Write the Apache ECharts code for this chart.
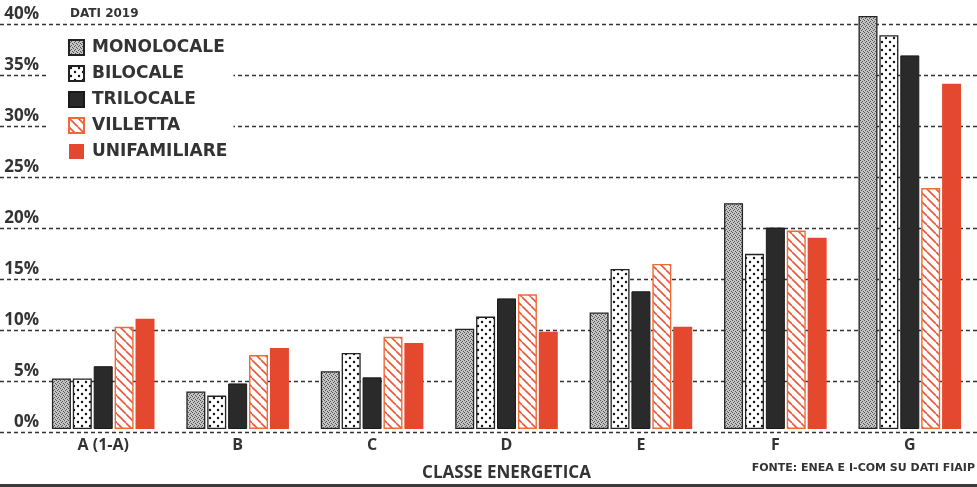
<!DOCTYPE html>
<html>
<head>
<meta charset="utf-8">
<script src="https://cdn.jsdelivr.net/npm/echarts@6/dist/echarts.min.js"></script>
<style>
  html, body { margin: 0; padding: 0; background: #fff; }
  #chart { width: 977px; height: 487px; }
</style>
</head>
<body>
<div id="chart"></div>
<script>
// Data (DATI 2019) - percent share per energy class
const categories = ['A (1-A)', 'B', 'C', 'D', 'E', 'F', 'G'];
const dataMono = [5.0, 3.7, 5.7, 9.9, 11.5, 22.3, 40.8];   // MONOLOCALE
const dataBilo = [5.0, 3.3, 7.5, 11.1, 15.8, 17.3, 38.9];  // BILOCALE
const dataTri = [6.2, 4.5, 5.1, 12.9, 13.6, 19.9, 36.9];   // TRILOCALE
const dataVilla = [10.1, 7.3, 9.1, 13.3, 16.3, 19.6, 23.8]; // VILLETTA
const dataUnif = [10.9, 8.0, 8.5, 9.6, 10.1, 18.9, 34.1];  // UNIFAMILIARE
const yTicks = [0, 5, 10, 15, 20, 25, 30, 35, 40];

const textColor = '#333';
const red = '#e4492f';

// small canvas patterns for the printed textures
function makePattern(size, draw) {
  const c = document.createElement('canvas');
  c.width = c.height = size;
  const ctx = c.getContext('2d');
  draw(ctx, size);
  return { image: c, repeat: 'repeat' };
}

const patMono = makePattern(4, (ctx) => {
  ctx.fillStyle = '#c4c4c4';
  ctx.fillRect(0, 0, 4, 4);
  ctx.fillStyle = '#555';
  [[0, 0], [2, 1], [1, 2], [3, 3]].forEach(p => ctx.fillRect(p[0], p[1], 1, 1));
});

const patBilo = makePattern(8, (ctx) => {
  ctx.fillStyle = '#fff';
  ctx.fillRect(0, 0, 8, 8);
  ctx.fillStyle = '#111';
  [[2, 2], [6, 6]].forEach(p => {
    ctx.beginPath();
    ctx.arc(p[0], p[1], 1.2, 0, Math.PI * 2);
    ctx.fill();
  });
});

const patVilla = makePattern(9, (ctx, s) => {
  ctx.fillStyle = '#fff';
  ctx.fillRect(0, 0, s, s);
  ctx.strokeStyle = '#e8573a';
  ctx.lineWidth = 1.6;
  [-s, 0, s].forEach(k => {
    ctx.beginPath();
    ctx.moveTo(k, 0);
    ctx.lineTo(k + s, s);
    ctx.stroke();
  });
});

const barBase = {
  type: 'bar',
  xAxisIndex: 1,
  yAxisIndex: 1,
  barWidth: 19,
  barGap: '10%',
  clip: false,
  animation: false
};

const option = {
  backgroundColor: '#fff',
  grid: [
    { left: 0, right: 0, top: 24, bottom: 55 },      // gridlines + y labels, full width
    { left: 36, width: 946, top: 24, bottom: 55 }    // bars
  ],
  legend: {
    orient: 'vertical',
    left: 46,
    top: 29,
    padding: [10, 6, 8, 22],
    backgroundColor: '#fff',
    icon: 'rect',
    itemWidth: 15,
    itemHeight: 15,
    itemGap: 9,
    selectedMode: false,
    textStyle: {
      color: textColor,
      fontFamily: 'DejaVu Sans',
      fontWeight: 'bold',
      fontSize: 17,
      lineHeight: 15,
      padding: [0, 0, 0, 3]
    },
    data: ['MONOLOCALE', 'BILOCALE', 'TRILOCALE', 'VILLETTA', 'UNIFAMILIARE']
  },
  xAxis: [
    { gridIndex: 0, type: 'value', min: 0, max: 1, show: false },
    {
      gridIndex: 1,
      type: 'category',
      data: categories,
      axisLine: { show: false },
      axisTick: { show: false },
      axisLabel: {
        color: textColor,
        fontFamily: 'Open Sans',
        fontWeight: 'bold',
        fontSize: 16,
        margin: 8
      },
      name: 'CLASSE ENERGETICA',
      nameLocation: 'middle',
      nameGap: 36,
      nameTextStyle: {
        color: textColor,
        fontFamily: 'Open Sans',
        fontWeight: 'bold',
        fontSize: 17
      }
    }
  ],
  yAxis: [
    {
      gridIndex: 0,
      type: 'value',
      min: yTicks[0],
      max: yTicks[yTicks.length - 1],
      interval: 5,
      axisLine: { show: false },
      axisTick: { show: false },
      axisLabel: {
        inside: true,
        margin: 39,
        align: 'right',
        verticalAlign: 'bottom',
        padding: [0, 0, 1, 0],
        formatter: '{value}%',
        color: textColor,
        fontFamily: 'Open Sans',
        fontWeight: 'bold',
        fontSize: 17
      },
      splitLine: {
        show: true,
        lineStyle: { color: '#333', width: 1.4, type: [4, 3] }
      }
    },
    {
      gridIndex: 1,
      type: 'value',
      min: yTicks[0],
      max: yTicks[yTicks.length - 1],
      show: false,
      splitLine: { show: false }
    }
  ],
  series: [
    Object.assign({}, barBase, {
      name: 'MONOLOCALE',
      data: dataMono,
      itemStyle: { color: patMono, borderColor: '#222', borderWidth: 1.3 }
    }),
    Object.assign({}, barBase, {
      name: 'BILOCALE',
      data: dataBilo,
      itemStyle: { color: patBilo, borderColor: '#222', borderWidth: 1.3 }
    }),
    Object.assign({}, barBase, {
      name: 'TRILOCALE',
      data: dataTri,
      itemStyle: { color: '#2a2a2a', borderColor: '#1a1a1a', borderWidth: 1 }
    }),
    Object.assign({}, barBase, {
      name: 'VILLETTA',
      data: dataVilla,
      itemStyle: { color: patVilla, borderColor: '#ee6a38', borderWidth: 1.4 }
    }),
    Object.assign({}, barBase, {
      name: 'UNIFAMILIARE',
      data: dataUnif,
      itemStyle: { color: red }
    })
  ],
  graphic: [
    {
      type: 'text',
      left: 70,
      top: 8,
      style: {
        text: 'DATI 2019',
        fill: textColor,
        font: 'bold 12px "DejaVu Sans"'
      }
    },
    {
      type: 'text',
      right: 2,
      top: 463,
      style: {
        text: 'FONTE: ENEA E I-COM SU DATI FIAIP',
        fill: textColor,
        font: 'bold 11px "DejaVu Sans"'
      }
    },
    {
      type: 'rect',
      left: 0,
      top: 484,
      shape: { width: 977, height: 3 },
      style: { fill: '#3a3a3a' }
    }
  ]
};

const myChart = echarts.init(document.getElementById('chart'));
myChart.setOption(option);
</script>
</body>
</html>
